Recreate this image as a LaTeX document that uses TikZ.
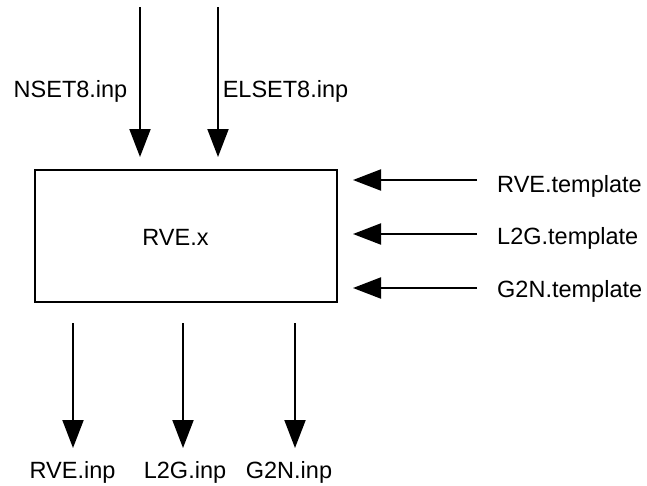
\documentclass[tikz,border=0pt]{standalone}
\usepackage{fontspec}
\setmainfont{Liberation Sans}
\usetikzlibrary{arrows.meta, positioning}

\begin{document}
\begin{tikzpicture}[
  x=1pt, y=-1pt,
  prog/.style={rectangle, draw, line width=2pt, minimum width=302pt, minimum height=132pt, inner sep=0pt},
  fname/.style={inner sep=0pt, font=\fontsize{23.5}{28}\selectfont},
  arrow/.style={-{Triangle[length=28pt, width=21pt]}, line width=2pt}
]
\useasboundingbox (0,0) rectangle (647,485);

\node[prog] (rve) at (186,236) {};
\node[fname, anchor=base] (rvex) at (175.5,245) {RVE.x};

% inputs from above
\coordinate (nsetsrc) at (140,7);
\coordinate (nsetdst) at (140,157);
\coordinate (elsetsrc) at (218,7);
\coordinate (elsetdst) at (218,157);
\node[fname, anchor=base] (nset) at (70.5,97) {NSET8.inp};
\node[fname, anchor=base] (elset) at (285.5,97) {ELSET8.inp};

% templates from the right
\coordinate (rvetsrc) at (477,180);
\coordinate (rvetdst) at (353,180);
\coordinate (l2gtsrc) at (477,234);
\coordinate (l2gtdst) at (353,234);
\coordinate (g2ntsrc) at (477,288);
\coordinate (g2ntdst) at (353,288);
\node[fname, anchor=base west] (rvet) at (497,192) {RVE.template};
\node[fname, anchor=base west] (l2gt) at (497,244) {L2G.template};
\node[fname, anchor=base west] (g2nt) at (497,297) {G2N.template};

% outputs below
\coordinate (rveosrc) at (73,323);
\coordinate (rveodst) at (73,448);
\coordinate (l2gosrc) at (183,323);
\coordinate (l2godst) at (183,448);
\coordinate (g2nosrc) at (295,323);
\coordinate (g2nodst) at (295,448);
\node[fname, anchor=base] (rveo) at (72.5,478) {RVE.inp};
\node[fname, anchor=base] (l2go) at (185,478) {L2G.inp};
\node[fname, anchor=base] (g2no) at (289,478) {G2N.inp};

\draw[arrow] (nsetsrc) -- (nsetdst);
\draw[arrow] (elsetsrc) -- (elsetdst);
\draw[arrow] (rvetsrc) -- (rvetdst);
\draw[arrow] (l2gtsrc) -- (l2gtdst);
\draw[arrow] (g2ntsrc) -- (g2ntdst);
\draw[arrow] (rveosrc) -- (rveodst);
\draw[arrow] (l2gosrc) -- (l2godst);
\draw[arrow] (g2nosrc) -- (g2nodst);

\end{tikzpicture}
\end{document}
